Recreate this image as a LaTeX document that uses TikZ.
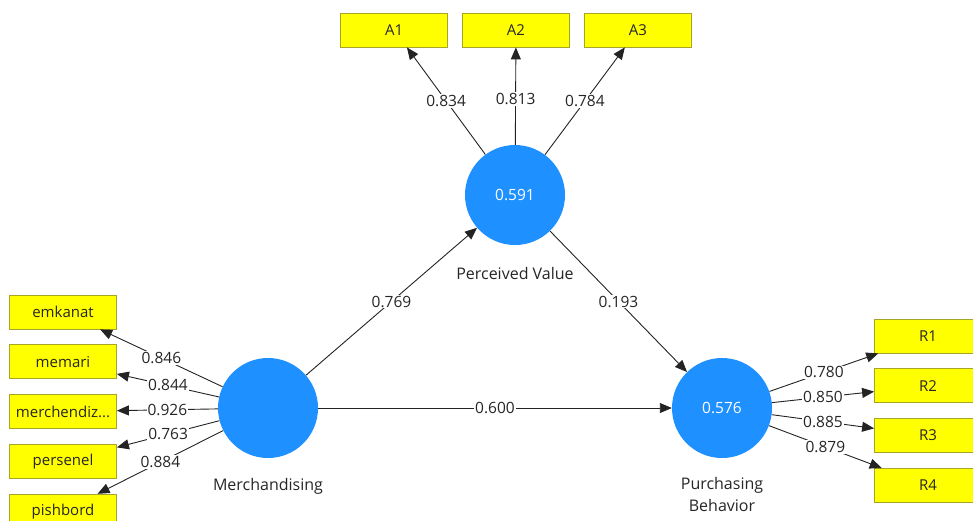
\documentclass[tikz,border=0pt]{standalone}
\usepackage{fontspec}
\setmainfont{Open Sans}
\usepackage{tikz}
\usetikzlibrary{arrows.meta, positioning}
\definecolor{latentblue}{RGB}{30,144,255}
\definecolor{itemyellow}{RGB}{255,255,0}
\definecolor{itemborder}{RGB}{165,165,40}
\definecolor{linegray}{RGB}{35,35,35}
\tikzset{
    latent/.style={circle, fill=latentblue, minimum size=100pt, inner sep=0pt,
                   text=white, font=\fontsize{15.5}{18}\selectfont},
    indicator/.style={rectangle, draw=itemborder, fill=itemyellow, line width=0.8pt,
                      minimum width=107pt, minimum height=34pt, inner sep=0pt,
                      text=black!85, font=\fontsize{15}{18}\selectfont},
    arrow/.style={-{Triangle[length=12pt,width=10pt]}, line width=0.9pt, color=linegray},
    coef/.style={midway, fill=white, inner sep=1pt, text=black!85,
                 font=\fontsize{15.5}{18}\selectfont},
    caption/.style={align=center, inner sep=0pt, text=black!85,
                    font=\fontsize{16}{22}\selectfont}
}
\begin{document}
\begin{tikzpicture}[x=1pt, y=-1pt]
    \useasboundingbox (0,0) rectangle (973,520);
    % constructs
    \node[latent] (pv) at (515,195) {0.591};
    \node[latent] (merch) at (268,408) {};
    \node[latent] (pb) at (722,408) {0.576};
    \node[caption, below=22pt of pv] (pvcap) {Perceived Value};
    \node[caption, below=20pt of merch] (merchcap) {Merchandising};
    \node[caption, below=19pt of pb] (pbcap) {Purchasing\\Behavior};

    % indicators
    \node[indicator] (a2) at (516,30) {A2};
    \node[indicator, left=14pt of a2] (a1) {A1};
    \node[indicator, right=14pt of a2] (a3) {A3};
    \node[indicator] (emkanat) at (63,312) {emkanat};
    \node[indicator, below=15pt of emkanat] (memari) {memari};
    \node[indicator, below=15pt of memari] (merchendiz) {merchendiz...};
    \node[indicator, below=15pt of merchendiz] (persenel) {persenel};
    \node[indicator, below=15pt of persenel] (pishbord) {pishbord};
    \node[indicator] (r1) at (928,336) {R1};
    \node[indicator, below=15pt of r1] (r2) {R2};
    \node[indicator, below=15pt of r2] (r3) {R3};
    \node[indicator, below=15pt of r3] (r4) {R4};

    % loadings
    \draw[arrow] (pv) -- node[coef]{0.834} (a1);
    \draw[arrow] (pv) -- node[coef, pos=0.47]{0.813} (a2);
    \draw[arrow] (pv) -- node[coef]{0.784} (a3);
    \draw[arrow] (merch) -- node[coef]{0.846} (emkanat);
    \draw[arrow] (merch) -- node[coef]{0.844} (memari);
    \draw[arrow] (merch) -- node[coef]{0.926} (merchendiz);
    \draw[arrow] (merch) -- node[coef]{0.763} (persenel);
    \draw[arrow] (merch) -- node[coef]{0.884} (pishbord);
    \draw[arrow] (pb) -- node[coef]{0.780} (r1);
    \draw[arrow] (pb) -- node[coef]{0.850} (r2);
    \draw[arrow] (pb) -- node[coef]{0.885} (r3);
    \draw[arrow] (pb) -- node[coef]{0.879} (r4);

    % paths
    \draw[arrow] (merch) -- node[coef]{0.769} (pv);
    \draw[arrow] (pv) -- node[coef]{0.193} (pb);
    \draw[arrow] (merch) -- node[coef]{0.600} (pb);
\end{tikzpicture}
\end{document}
